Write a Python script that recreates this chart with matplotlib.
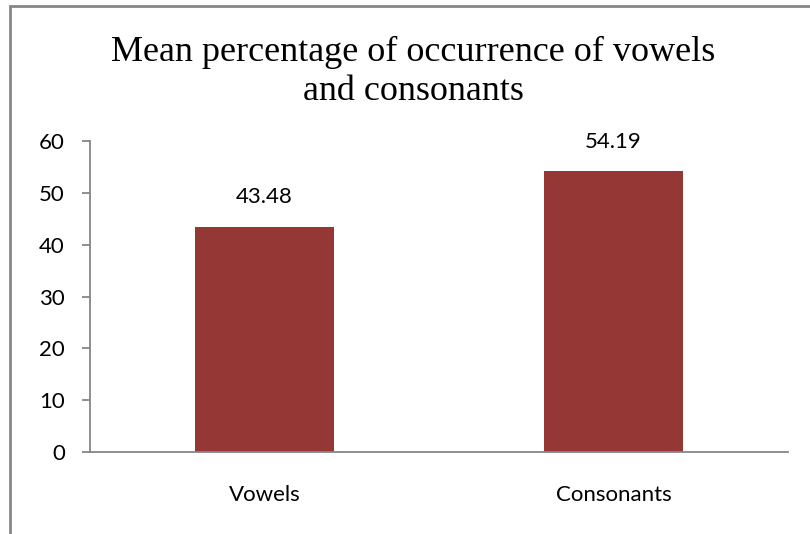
import matplotlib.pyplot as plt
from matplotlib.patches import Rectangle

categories = ['Vowels', 'Consonants']
values = [43.48, 54.19]
yticks = [0, 10, 20, 30, 40, 50, 60]

grey = '#868686'
bar_color = '#953735'

fig = plt.figure(figsize=(8.1, 5.34), dpi=100)
fig.patch.set_facecolor('white')

# chart frame (right and bottom edges fall outside the picture)
fig.patches.append(Rectangle((10 / 810, -0.1), 1.2, 1 - 6 / 534 + 0.1,
                             transform=fig.transFigure, fill=False,
                             edgecolor=grey, linewidth=2))

ax = fig.add_axes([90 / 810, 82 / 534, (788 - 90) / 810, (452 - 141) / 534])
ax.bar(categories, values, width=0.4, color=bar_color)
ax.set_xlim(-0.5, 1.5)
ax.set_ylim(0, 60)
ax.set_yticks(yticks)

for i, v in enumerate(values):
    ax.annotate(f'{v:.2f}', (i, v), xytext=(0, 14), textcoords='offset points',
                ha='center', va='bottom', fontsize=16, family='Lato')

for s in ['top', 'right']:
    ax.spines[s].set_visible(False)
for s in ['left', 'bottom']:
    ax.spines[s].set_color(grey)
    ax.spines[s].set_linewidth(1.3)

ax.tick_params(axis='y', length=6, width=1.3, color=grey, pad=12, labelsize=16)
ax.tick_params(axis='x', length=0, pad=24, labelsize=16)
for lab in ax.get_xticklabels() + ax.get_yticklabels():
    lab.set_family('Lato')

fig.text(413 / 810, 1 - 100 / 534, 'Mean percentage of occurrence of vowels\nand consonants',
         ha='center', va='baseline', fontsize=26, family='Liberation Serif',
         linespacing=1.25)

fig.savefig('out.png', dpi=100)
